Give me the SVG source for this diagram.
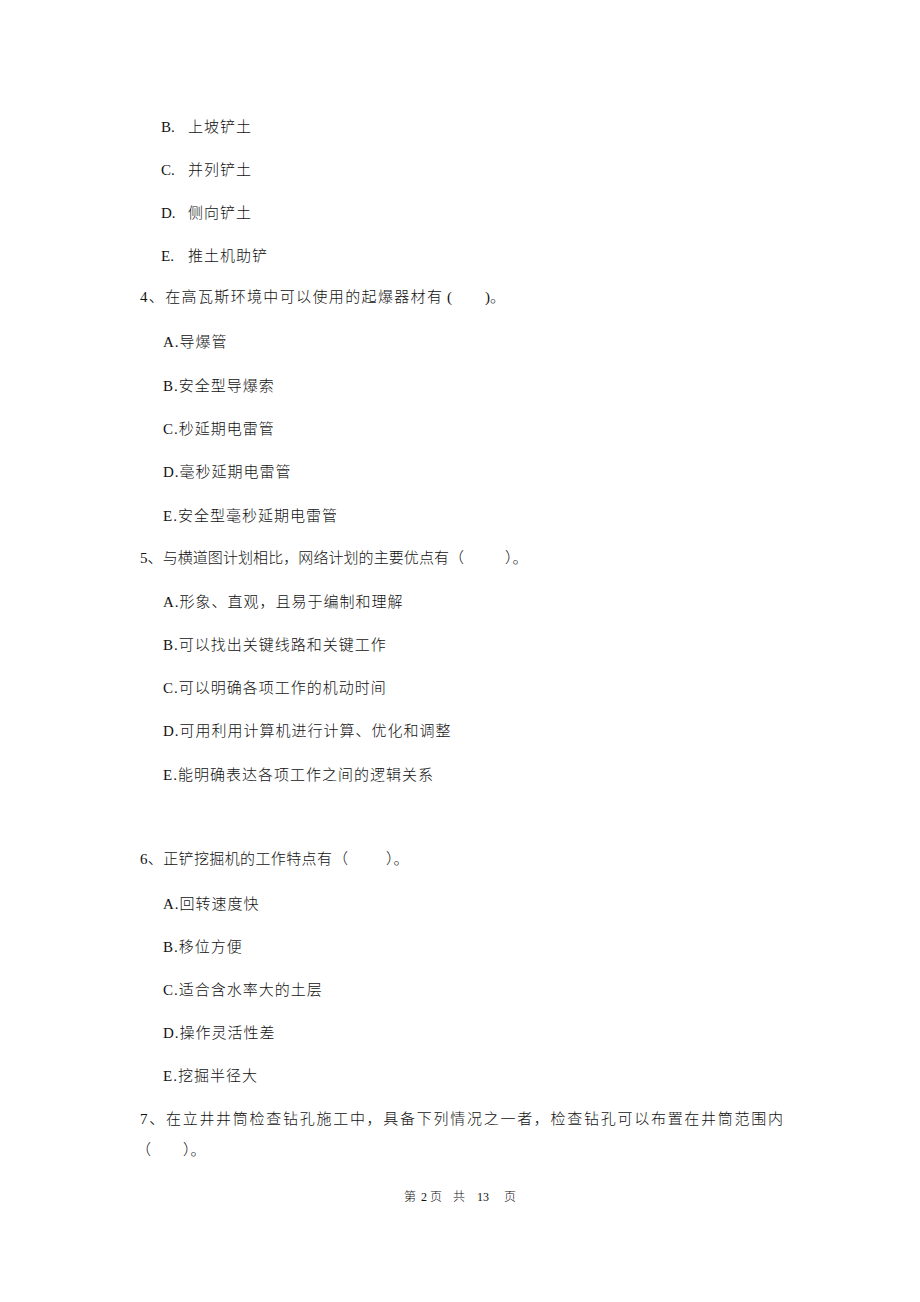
<svg xmlns="http://www.w3.org/2000/svg" width="920" height="1302" viewBox="0 0 920 1302">
<style>
text{font-family:"Liberation Serif","Noto Sans CJK SC",serif;font-size:15px;fill:#111;font-weight:300;}
.o{letter-spacing:1px;}
.f{font-size:12px;}
</style>
<rect width="920" height="1302" fill="#fff"/>
<g id="q3-options">
<text x="161" y="132">B.</text><text class="o" x="188" y="132">上坡铲土</text>
<text x="161" y="175">C.</text><text class="o" x="188" y="175">并列铲土</text>
<text x="161" y="218">D.</text><text class="o" x="188" y="218">侧向铲土</text>
<text x="161" y="261">E.</text><text class="o" x="188" y="261">推土机助铲</text>
</g>
<g id="q4">
<text x="140" y="302" textLength="302" lengthAdjust="spacing">4、在高瓦斯环境中可以使用的起爆器材有</text>
<text x="447" y="302">(</text><text x="485" y="302">)。</text>
<text class="o" x="163" y="347">A.导爆管</text>
<text class="o" x="163" y="391">B.安全型导爆索</text>
<text class="o" x="163" y="434">C.秒延期电雷管</text>
<text class="o" x="163" y="477">D.毫秒延期电雷管</text>
<text class="o" x="163" y="521">E.安全型毫秒延期电雷管</text>
</g>
<g id="q5">
<text x="140" y="563" textLength="309" lengthAdjust="spacing">5、与横道图计划相比，网络计划的主要优点有</text>
<text x="449" y="563">（</text><text x="505" y="563">）。</text>
<text class="o" x="163" y="607">A.形象、直观，且易于编制和理解</text>
<text class="o" x="163" y="650">B.可以找出关键线路和关键工作</text>
<text class="o" x="163" y="693">C.可以明确各项工作的机动时间</text>
<text class="o" x="163" y="736">D.可用利用计算机进行计算、优化和调整</text>
<text class="o" x="163" y="780">E.能明确表达各项工作之间的逻辑关系</text>
</g>
<g id="q6">
<text x="140" y="864" textLength="192" lengthAdjust="spacing">6、正铲挖掘机的工作特点有</text>
<text x="333" y="864">（</text><text x="386" y="864">）。</text>
<text class="o" x="163" y="909">A.回转速度快</text>
<text class="o" x="163" y="952">B.移位方便</text>
<text class="o" x="163" y="995">C.适合含水率大的土层</text>
<text class="o" x="163" y="1038">D.操作灵活性差</text>
<text class="o" x="163" y="1081">E.挖掘半径大</text>
</g>
<g id="q7">
<text x="140" y="1124" textLength="643" lengthAdjust="spacing">7、在立井井筒检查钻孔施工中，具备下列情况之一者，检查钻孔可以布置在井筒范围内</text>
<text x="136" y="1155">（</text><text x="183" y="1155">）。</text>
</g>
<g id="footer">
<text class="f" x="404" y="1201">第</text>
<text class="f" x="421" y="1201">2</text>
<text class="f" x="430" y="1201">页</text>
<text class="f" x="453" y="1201">共</text>
<text class="f" x="477" y="1201">13</text>
<text class="f" x="504" y="1201">页</text>
</g>
</svg>
